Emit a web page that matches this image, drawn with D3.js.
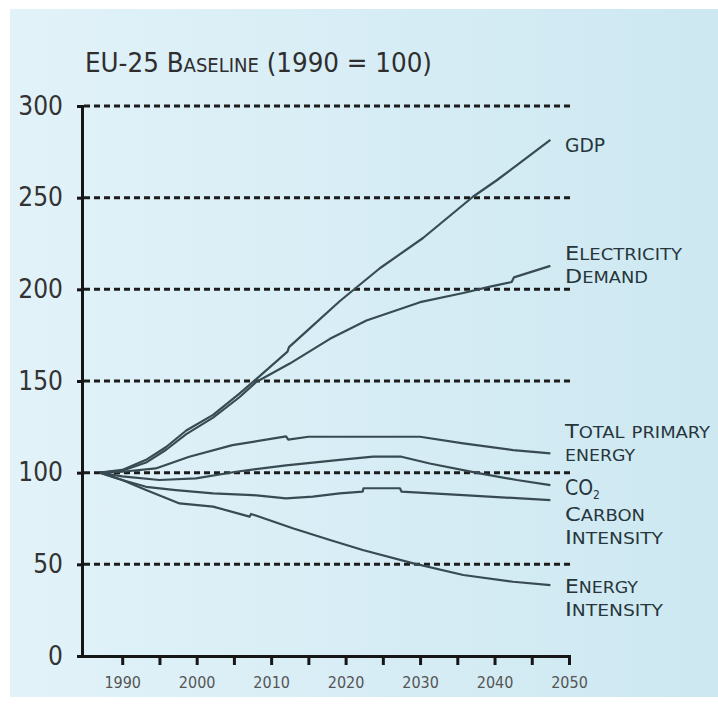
<!DOCTYPE html>
<meta charset="utf-8">

<style>
  body { margin: 0; background: #fff; }

  .grid line {
    stroke: #1c1c1c;
    stroke-width: 3;
    stroke-dasharray: 6,4;
  }

  .series path {
    fill: none;
    stroke: #384b52;
    stroke-width: 2.2;
    stroke-linejoin: round;
  }

  .axis path, .axis line {
    stroke: #161616;
    stroke-width: 3;
  }

  .label { fill: #27363c; }
</style>

<svg width="718" height="707"></svg>

<script src="https://d3js.org/d3.v7.min.js"></script>
<script>
// ====================================================================
// values: [year, index 1990 = 100]
const gdp = [
  [1987, 100], [1990, 101.5], [1993.2, 107], [1995.9, 114], [1998.6, 123],
  [2002.2, 131.5], [2005.7, 143], [2008, 151], [2012.2, 166], [2012.4, 168.5],
  [2015, 178], [2019.2, 193.5], [2024.6, 211.5], [2030.4, 228], [2037.1, 250.5],
  [2040.3, 259.5], [2043.9, 270.5], [2047.5, 281.5]
]
const electricity = [
  [1987, 100], [1990, 101], [1993.2, 105.5], [1995.9, 112.5], [1998.6, 121],
  [2002.2, 130], [2005.7, 141], [2008, 149.5], [2012.5, 159.5], [2017.9, 173],
  [2022.8, 183], [2030, 193], [2035.8, 198], [2039.4, 201.5], [2042.3, 204],
  [2042.6, 206.5], [2047.5, 212.8]
]
const primaryEnergy = [
  [1987, 100], [1990, 100.5], [1994.5, 102.3], [1999, 108.7], [2004.8, 115],
  [2012, 119.8], [2012.3, 118], [2015, 119.6], [2030, 119.6], [2035.8, 116],
  [2042.5, 112.3], [2047.5, 110.5]
]
const co2 = [
  [1987, 100], [1990, 98], [1995, 96], [1999.9, 96.9], [2005.3, 100.5],
  [2012, 104], [2019.2, 107], [2023.7, 108.7], [2027.5, 108.7], [2031.3, 105],
  [2038, 99.6], [2043, 96], [2047.5, 93.2]
]
const carbonIntensity = [
  [1987, 100], [1990, 96], [1993.2, 92.3], [1997.2, 90.5], [2002.2, 88.7],
  [2007.5, 87.8], [2012, 86], [2015.6, 86.9], [2019.2, 88.7], [2022.3, 89.7],
  [2022.4, 91.5], [2027.3, 91.5], [2027.5, 89.7], [2035.8, 87.8], [2047.5, 85]
]
const energyIntensity = [
  [1987, 100], [1990, 96], [1993.2, 90.5], [1997.7, 83.2], [2002.2, 81.5],
  [2007.1, 76], [2007.3, 77.5], [2012.9, 69.7], [2017.9, 63.3], [2022.3, 57.8],
  [2029.1, 50.5], [2035.8, 44.2], [2042.5, 40.5], [2047.5, 38.7]
]

const series = [gdp, electricity, primaryEnergy, co2, carbonIntensity, energyIntensity]
const seriesLabels = [
  ["GDP"],
  ["Electricity", "Demand"],
  ["Total primary", "energy"],
  ["CO2"],
  ["Carbon", "Intensity"],
  ["Energy", "Intensity"]
]

const yTicks = [0, 50, 100, 150, 200, 250, 300]
const xTicks = [1990, 1995, 2000, 2005, 2010, 2015, 2020, 2025, 2030, 2035, 2040, 2045, 2050]
const title = "EU-25 Baseline (1990 = 100)"

// ====================================================================
// layout
const FONT = '"DejaVu Sans Condensed", "Liberation Sans Narrow", "Open Sans", sans-serif'
const labelX = 565
const labelY = [152, 260, 438, 495, 521, 593]   // first baseline of each label
const labelW = [[40], [117, 83], [145, 70], [0], [80, 98], [73, 98]]
const lineGap = 23

const svg = d3.select("svg")

const x = d3.scaleLinear().domain([1984.6, 2050]).range([82, 569])
const y = d3.scaleLinear().domain([0, 300]).range([656, 106])

// background panel
const grad = svg.append("defs").append("linearGradient")
    .attr("id", "bg").attr("x1", 0).attr("x2", 1).attr("y1", 0).attr("y2", 0)
grad.append("stop").attr("offset", 0).attr("stop-color", "#e2f2f9")
grad.append("stop").attr("offset", 1).attr("stop-color", "#cde8f1")

svg.append("rect")
    .attr("x", 10).attr("y", 9).attr("width", 708).attr("height", 688)
    .attr("fill", "url(#bg)")

// small caps by hand: lower case letters become smaller capitals
const smallCaps = (parent, str, big, small) => {
    const runs = []
    for (const ch of str) {
        const size = ch !== ch.toUpperCase() ? small : big
        const last = runs[runs.length - 1]
        if (last && last.size === size) last.t += ch.toUpperCase()
        else runs.push({t: ch.toUpperCase(), size: size})
    }
    runs.forEach(r => parent.append("tspan").attr("font-size", r.size).text(r.t))
}

// title
const t = svg.append("text")
    .attr("x", 85).attr("y", 72)
    .attr("font-family", FONT)
    .attr("fill", "#2e2e2e")
    .attr("textLength", 347)
    .attr("lengthAdjust", "spacingAndGlyphs")
smallCaps(t, title, 26, 19)

// dashed gridlines
svg.append("g")
    .attr("class", "grid")
    .selectAll("line")
    .data(yTicks.filter(d => d > 0))
    .enter()
    .append("line")
    .attr("x1", x.range()[0] + 2)
    .attr("x2", 572)
    .attr("y1", d => y(d))
    .attr("y2", d => y(d))

// axes
const yAxis = svg.append("g")
    .attr("class", "axis")
    .attr("transform", `translate(${x.range()[0]},0)`)
    .call(d3.axisLeft(y).tickValues(yTicks).tickSize(5).tickSizeOuter(0).tickPadding(14))
yAxis.selectAll("text")
    .attr("font-family", FONT)
    .attr("font-size", 26)
    .attr("fill", "#333")

const xAxis = svg.append("g")
    .attr("class", "axis")
    .attr("transform", `translate(0,${y(0)})`)
    .call(d3.axisBottom(x).tickValues(xTicks).tickSize(9).tickSizeOuter(0).tickPadding(12)
        .tickFormat(d => d % 10 === 0 ? d : ""))
xAxis.selectAll("text")
    .attr("font-family", FONT)
    .attr("font-size", 16)
    .attr("fill", "#555")
svg.selectAll(".axis .domain").attr("stroke-linecap", "square")

// lines
const line = d3.line()
    .x(d => x(d[0]))
    .y(d => y(d[1]))

svg.append("g")
    .attr("class", "series")
    .selectAll("path")
    .data(series)
    .enter()
    .append("path")
    .attr("d", line)

// labels at the line ends, one text per label, one tspan row per line
seriesLabels.forEach((lines, i) => {
    const txt = svg.append("text")
        .attr("class", "label")
        .attr("x", labelX)
        .attr("y", labelY[i])
        .attr("font-family", FONT)
    lines.forEach((str, j) => {
        const row = txt.append("tspan")
            .attr("x", labelX)
            .attr("y", labelY[i] + j * lineGap)
        if (str === "CO2") {
            row.append("tspan").attr("font-size", 21).text("CO")
            row.append("tspan").attr("font-size", 12).attr("dy", 4).text("2")
        } else {
            smallCaps(row, str, 20, 16)
            row.attr("textLength", labelW[i][j]).attr("lengthAdjust", "spacingAndGlyphs")
        }
    })
})

</script>
